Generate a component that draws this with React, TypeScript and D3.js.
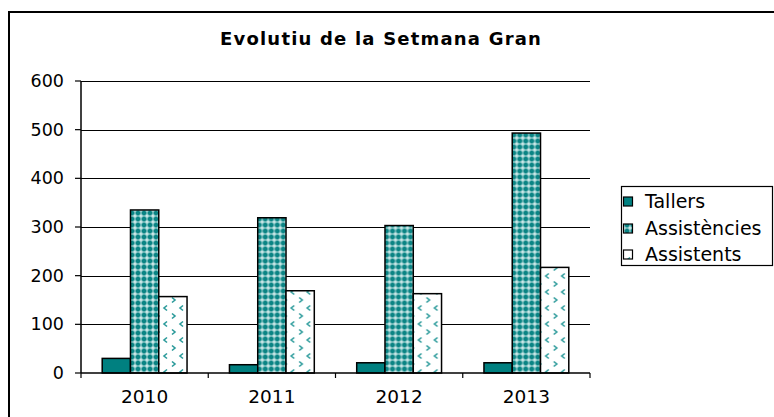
import { scaleBand, scaleLinear } from "d3";

const WIDTH = 774;
const HEIGHT = 417;
const PLOT = { left: 81, right: 590, top: 81, bottom: 373 };

const years = ["2010", "2011", "2012", "2013"];
const seriesNames = ["Tallers", "Assistències", "Assistents"];
const tallers = [30, 17, 21, 21];
const assistencies = [335, 319, 303, 493];
const assistents = [157, 169, 163, 217];
const yTicks = [0, 100, 200, 300, 400, 500, 600];

const seriesValues = [tallers, assistencies, assistents];
const seriesFills = ["#008080", "url(#pAssistencies)", "url(#pAssistents)"];

const FONT = "'DejaVu Sans', Verdana, sans-serif";

export default function App() {
  const x0 = scaleBand<string>().domain(years).range([PLOT.left, PLOT.right]);
  // Excel-style gap width 150%: three bars plus 1.5 bar of gap per category
  const x1 = scaleBand<string>()
    .domain(seriesNames)
    .range([0, x0.bandwidth()])
    .paddingOuter(0.75);
  const y = scaleLinear().domain([0, 600]).range([PLOT.bottom, PLOT.top]);

  const legendBaselines = [208, 235, 261];

  return (
    <svg
      width={WIDTH}
      height={HEIGHT}
      viewBox={`0 0 ${WIDTH} ${HEIGHT}`}
      style={{ position: "absolute", left: 0, top: 0, background: "#fff" }}
    >
      <defs>
        <pattern id="pAssistencies" width="6" height="6" patternUnits="userSpaceOnUse">
          <rect width="6" height="6" fill="#c4e4e4" />
          <rect x="0.5" y="1.5" width="5" height="3" fill="#0a8484" />
          <rect x="1.5" y="0.5" width="3" height="5" fill="#0a8484" />
          <rect x="5.5" y="5.5" width="1" height="1" fill="#ffffff" />
        </pattern>
        <pattern id="pAssistents" width="16" height="16" patternUnits="userSpaceOnUse">
          <rect width="16" height="16" fill="#fff" />
          <path d="M6 1.5 L3 4 L6 6.5" fill="none" stroke="#2a9a9a" strokeWidth="1.6" />
          <path d="M11 9.5 L14 12 L11 14.5" fill="none" stroke="#2a9a9a" strokeWidth="1.6" />
        </pattern>
      </defs>

      {/* chart area border (runs off the right and bottom of the picture) */}
      <path d={`M9 ${HEIGHT + 5} V12 H${WIDTH + 5}`} fill="none" stroke="#000" strokeWidth="2" />

      <text
        x={220}
        y={45}
        fontFamily={FONT}
        fontWeight="bold"
        fontSize="18"
        letterSpacing="1.2"
        fill="#000"
      >
        Evolutiu de la Setmana Gran
      </text>

      {/* gridlines */}
      {yTicks
        .filter((t) => t > 0)
        .map((t) => (
          <line
            key={t}
            x1={PLOT.left}
            x2={PLOT.right}
            y1={Math.round(y(t)) + 0.5}
            y2={Math.round(y(t)) + 0.5}
            stroke="#000"
            strokeWidth="1.2"
          />
        ))}

      {/* bars */}
      {years.map((year, i) => (
        <g key={year} transform={`translate(${x0(year)},0)`}>
          {seriesNames.map((name, s) => (
            <rect
              key={name}
              x={x1(name)}
              y={y(seriesValues[s][i])}
              width={x1.bandwidth()}
              height={y(0) - y(seriesValues[s][i])}
              fill={seriesFills[s]}
              stroke="#000"
              strokeWidth="1.5"
            />
          ))}
        </g>
      ))}

      {/* y axis */}
      <line x1={PLOT.left} x2={PLOT.left} y1={PLOT.top} y2={PLOT.bottom} stroke="#000" strokeWidth="1.5" />
      {yTicks.map((t) => (
        <g key={t}>
          <line x1={PLOT.left - 6} x2={PLOT.left} y1={y(t)} y2={y(t)} stroke="#000" strokeWidth="1.2" />
          <text x={64} y={y(t) + 6} textAnchor="end" fontFamily={FONT} fontSize="17.5" fill="#000">
            {t}
          </text>
        </g>
      ))}

      {/* x axis */}
      <line x1={PLOT.left} x2={PLOT.right} y1={PLOT.bottom} y2={PLOT.bottom} stroke="#000" strokeWidth="1.5" />
      {[...years.map((yr) => x0(yr) as number), PLOT.right].map((xv, i) => (
        <line key={i} x1={xv} x2={xv} y1={PLOT.bottom} y2={PLOT.bottom + 5} stroke="#000" strokeWidth="1.2" />
      ))}
      {years.map((yr) => (
        <text
          key={yr}
          x={(x0(yr) as number) + x0.bandwidth() / 2}
          y={403}
          textAnchor="middle"
          fontFamily={FONT}
          fontSize="18.5"
          fill="#000"
        >
          {yr}
        </text>
      ))}

      {/* legend */}
      <rect x={621.5} y={186.5} width={151} height={79} fill="#fff" stroke="#000" strokeWidth="1.2" />
      {seriesNames.map((name, s) => (
        <g key={name}>
          <rect
            x={623.5}
            y={legendBaselines[s] - 11}
            width={9}
            height={9}
            fill={seriesFills[s]}
            stroke="#000"
            strokeWidth="1.2"
          />
          <text x={645} y={legendBaselines[s]} fontFamily={FONT} fontSize="19" fill="#000">
            {name}
          </text>
        </g>
      ))}
    </svg>
  );
}
